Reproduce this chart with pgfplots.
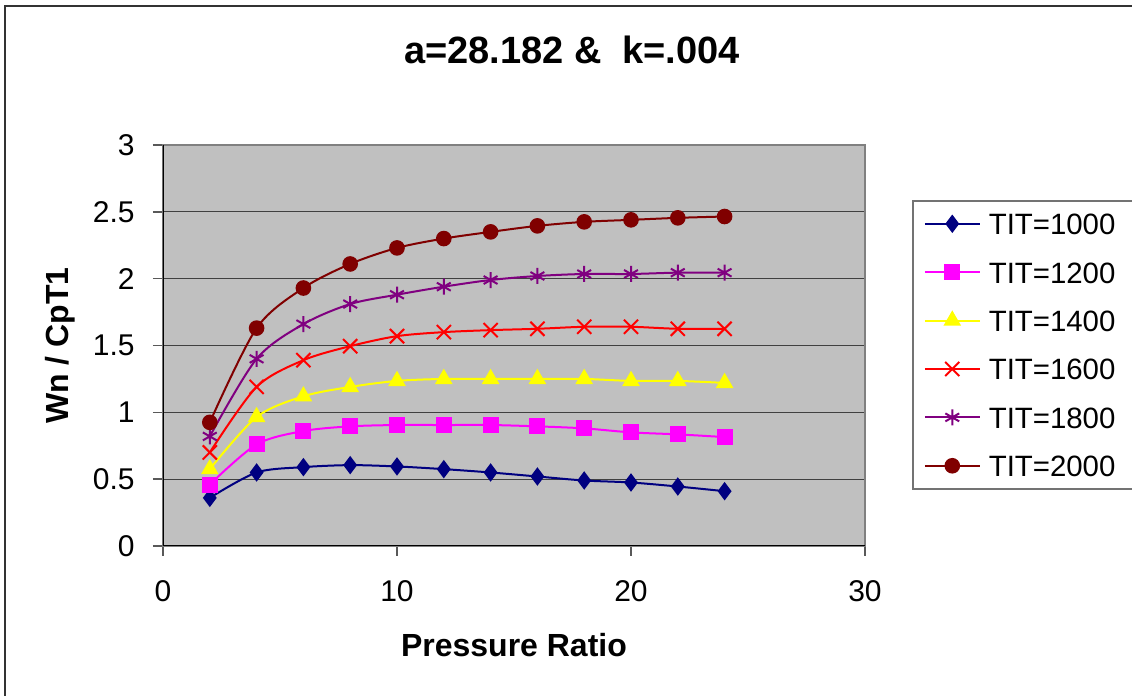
\documentclass[border=0pt]{standalone}
\usepackage{fontspec}
\setmainfont{Liberation Sans}
\usepackage{pgfplots}
\usepackage{pgfplotstable}
\pgfplotsset{compat=1.18}

\definecolor{bgc}{HTML}{C0C0C0}
\definecolor{cA}{HTML}{000080}
\definecolor{cB}{HTML}{FF00FF}
\definecolor{cC}{HTML}{FFFF00}
\definecolor{cD}{HTML}{FF0000}
\definecolor{cE}{HTML}{800080}
\definecolor{cF}{HTML}{800000}

\pgfplotstableread{
x y
2 0.36
4 0.55
6 0.59
8 0.605
10 0.595
12 0.575
14 0.55
16 0.52
18 0.49
20 0.475
22 0.445
24 0.41
}\tA
\pgfplotstableread{
x y
2 0.46
4 0.76
6 0.86
8 0.895
10 0.905
12 0.905
14 0.905
16 0.895
18 0.88
20 0.85
22 0.835
24 0.815
}\tB
\pgfplotstableread{
x y
2 0.575
4 0.965
6 1.12
8 1.19
10 1.235
12 1.25
14 1.25
16 1.25
18 1.25
20 1.235
22 1.235
24 1.22
}\tC
\pgfplotstableread{
x y
2 0.70
4 1.19
6 1.39
8 1.495
10 1.57
12 1.60
14 1.615
16 1.625
18 1.64
20 1.64
22 1.625
24 1.625
}\tD
\pgfplotstableread{
x y
2 0.82
4 1.40
6 1.66
8 1.81
10 1.88
12 1.94
14 1.99
16 2.02
18 2.035
20 2.035
22 2.045
24 2.045
}\tE
\pgfplotstableread{
x y
2 0.925
4 1.63
6 1.93
8 2.11
10 2.23
12 2.30
14 2.35
16 2.395
18 2.425
20 2.44
22 2.455
24 2.465
}\tF

\begin{document}
\begin{tikzpicture}
\useasboundingbox (0,0) rectangle (566pt,348pt);
\draw[line width=1pt, black!80] (2.5pt,0) -- (2.5pt,345pt) -- (566pt,345pt);
\begin{axis}[
  at={(81.5pt,75pt)}, anchor=south west,
  scale only axis, width=351pt, height=200.5pt,
  xmin=0, xmax=30, ymin=0, ymax=3,
  xtick={0,10,20,30}, ytick={0,0.5,1,1.5,2,2.5,3},
  axis background/.style={fill=bgc},
  axis line style={black!50, line width=0.75pt},
  ymajorgrids, grid style={black!75, line width=0.5pt},
  tick align=outside, xtick pos=lower, ytick pos=left,
  major tick length=5pt,
  tick style={black!65, line width=0.75pt},
  /pgf/number format/assume math mode=true,
  tick label style={font=\fontsize{15}{18}\selectfont},
  yticklabel style={inner sep=0pt, xshift=-9pt},
  xticklabel style={inner sep=0pt, yshift=-12pt},
  title={a=28.182 \&~~k=.004},
  title style={at={(axis description cs:0.5826,1.244)}, anchor=north, inner sep=0pt, font=\bfseries\fontsize{19}{22}\selectfont},
  xlabel={Pressure Ratio},
  xlabel style={at={(axis description cs:0.5,-0.217)}, anchor=north, inner sep=0pt, font=\bfseries\fontsize{16}{19}\selectfont},
  ylabel={Wn / CpT1},
  ylabel style={at={(axis description cs:-0.168,0.5)}, anchor=north, inner sep=0pt, font=\bfseries\fontsize{16}{19}\selectfont},
  legend cell align=left,
  legend style={at={(1.067,0.8628)}, anchor=north west, draw=black!55, line width=0.75pt, fill=white,
    font=\fontsize{14.7}{17}\selectfont, inner xsep=5.5pt, inner ysep=2pt, row sep=5.2pt, column sep=4pt,
    nodes={inner sep=0pt, text height=15pt, text depth=4pt}},
  legend image code/.code={\draw[mark repeat=2,mark phase=2] plot coordinates {(0pt,0pt) (13.75pt,0pt) (27.5pt,0pt)};},
]
\draw[black, line width=1.2pt] (rel axis cs:0,1) -- (rel axis cs:0,0) -- (rel axis cs:1,0);
\addplot[cA, line width=1pt, smooth, mark=diamond*, mark size=3.8pt, mark options={solid, fill=cA}] table {\tA};
\addlegendentry{\makebox[66.5pt][l]{TIT=1000}}
\addplot[cB, line width=1pt, smooth, mark=square*, mark size=3.5pt, mark options={solid, fill=cB}] table {\tB};
\addlegendentry{\makebox[66.5pt][l]{TIT=1200}}
\addplot[cC, line width=1pt, smooth, mark=triangle*, mark size=4.1pt, mark options={solid, fill=cC}] table {\tC};
\addlegendentry{\makebox[66.5pt][l]{TIT=1400}}
\addplot[cD, line width=1pt, smooth, mark=x, mark size=5pt, mark options={solid, line width=1pt}] table {\tD};
\addlegendentry{\makebox[66.5pt][l]{TIT=1600}}
\addplot[cE, line width=1pt, smooth, mark=asterisk, mark size=4pt, mark options={solid, line width=1pt}] table {\tE};
\addlegendentry{\makebox[66.5pt][l]{TIT=1800}}
\addplot[cF, line width=1pt, smooth, mark=*, mark size=3.4pt, mark options={solid, fill=cF}] table {\tF};
\addlegendentry{\makebox[66.5pt][l]{TIT=2000}}
\end{axis}
\end{tikzpicture}
\end{document}
